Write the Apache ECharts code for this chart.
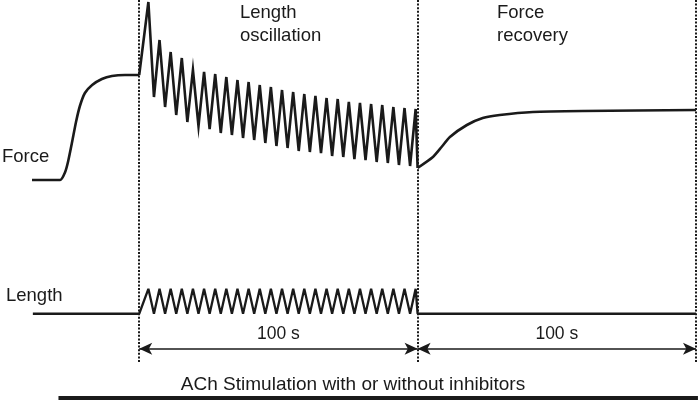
<!DOCTYPE html>
<html>
<head>
<meta charset="utf-8">
<script src="https://cdn.jsdelivr.net/npm/echarts@6/dist/echarts.min.js"></script>
<style>
  html, body { margin: 0; padding: 0; background: #fff; }
  #chart { width: 698px; height: 402px; }
</style>
</head>
<body>
<div id="chart"></div>
<script>
// time in seconds, force and length in arbitrary units
var riseTime = [-38.5, -28.4, -26.6, -25.5, -24.1, -22.7, -21.3, -19.5, -16.9, -13.4, -9.8, -5.1, 0];
var riseForce = [0, 0, 0.08, 0.19, 0.38, 0.58, 0.74, 0.87, 0.95, 1.01, 1.04, 1.05, 1.05];

var peakTime = [3.3, 7.3, 11.3, 15.3, 19.3, 23.3, 27.3, 31.3, 35.3, 39.3, 43.3, 47.3, 51.3,
  55.3, 59.3, 63.3, 67.3, 71.3, 75.3, 79.3, 83.3, 87.3, 91.3, 95.3, 99.3];
var troughTime = [5.3, 9.3, 13.3, 17.3, 21.3, 25.3, 29.3, 33.3, 37.3, 41.3, 45.3, 49.3, 53.3,
  57.3, 61.3, 65.3, 69.3, 73.3, 77.3, 81.3, 85.3, 89.3, 93.3, 97.3, 100];
var peakForce = [1.78, 1.40, 1.28, 1.22, 1.10, 1.08, 1.06, 1.03, 1.00, 0.98, 0.95, 0.93, 0.90,
  0.88, 0.86, 0.84, 0.82, 0.81, 0.78, 0.77, 0.76, 0.75, 0.73, 0.72, 0.71];
var troughForce = [0.83, 0.73, 0.65, 0.58, 0.54, 0.51, 0.47, 0.45, 0.42, 0.40, 0.37, 0.34, 0.32,
  0.29, 0.28, 0.27, 0.24, 0.23, 0.21, 0.20, 0.18, 0.17, 0.15, 0.14, 0.12];

var recTime = [100, 105.5, 108.6, 111.6, 117.7, 123.4, 129.5, 141.4, 159.3, 200];
var recForce = [0.12, 0.23, 0.33, 0.43, 0.55, 0.62, 0.65, 0.68, 0.69, 0.70];

var lengthPeak = 1;
var lengthBase = 0;
var lengthStart = -38.2;
var stimStart = -29;
var stimEnd = 200.7;
var stimLevel = -3.38;
var arrowLevel = -1.4;
var phaseBounds = [0, 100, 200];

var chart = echarts.init(document.getElementById('chart'));

function zip(xs, ys) {
  return xs.map(function (x, i) { return [x, ys[i]]; });
}

var oscForce = [[0, riseForce[riseForce.length - 1]]];
var oscLength = [[lengthStart, lengthBase], [0, lengthBase]];
for (var i = 0; i < peakTime.length; i++) {
  oscForce.push([peakTime[i], peakForce[i]]);
  oscForce.push([troughTime[i], troughForce[i]]);
  oscLength.push([peakTime[i], lengthPeak]);
  oscLength.push([troughTime[i], lengthBase]);
}
oscLength.push([200, lengthBase]);

var txt = '#1a1a1a';
var fam = '"Liberation Sans", Arial, sans-serif';
var font = '18.5px ' + fam;
var xBase = { type: 'value', min: -50, max: 200, show: false };

var option = {
  animation: false,
  backgroundColor: '#fff',
  grid: [
    { left: 0, right: 2, top: 0, bottom: 202 },
    { left: 0, right: 2, top: 239, bottom: 1 },
    { left: 0, right: 2, top: 0, bottom: 40 }
  ],
  xAxis: [
    Object.assign({ gridIndex: 0 }, xBase),
    Object.assign({ gridIndex: 1 }, xBase),
    Object.assign({ gridIndex: 2 }, xBase)
  ],
  yAxis: [
    { gridIndex: 0, type: 'value', min: -0.2, max: 1.8, show: false },
    { gridIndex: 1, type: 'value', min: -3.5, max: 3, show: false },
    { gridIndex: 2, type: 'value', min: 0, max: 1, show: false }
  ],
  series: [
    {
      type: 'line', xAxisIndex: 0, yAxisIndex: 0, data: zip(riseTime, riseForce),
      smooth: 0.2, symbol: 'none', clip: false,
      lineStyle: { color: txt, width: 2.6 }
    },
    {
      type: 'line', xAxisIndex: 0, yAxisIndex: 0, data: oscForce,
      symbol: 'none', clip: false,
      lineStyle: { color: txt, width: 2.6, join: 'miter' }
    },
    {
      type: 'line', xAxisIndex: 0, yAxisIndex: 0, data: zip(recTime, recForce),
      smooth: 0.2, symbol: 'none', clip: false,
      lineStyle: { color: txt, width: 2.6 }
    },
    {
      type: 'line', xAxisIndex: 1, yAxisIndex: 1, data: oscLength,
      symbol: 'none', clip: false,
      lineStyle: { color: txt, width: 2.3 },
      markLine: {
        silent: true,
        symbol: ['arrow', 'arrow'],
        symbolSize: [9, 13],
        lineStyle: { color: txt, width: 1.6, type: 'solid' },
        label: {
          show: true, position: 'middle', distance: 5,
          formatter: '100 s', color: txt, fontSize: 17.5, fontFamily: fam
        },
        data: [
          [{ coord: [phaseBounds[0], arrowLevel] }, { coord: [phaseBounds[1], arrowLevel] }],
          [{ coord: [phaseBounds[1], arrowLevel] }, { coord: [phaseBounds[2], arrowLevel] }]
        ]
      }
    },
    {
      type: 'line', xAxisIndex: 1, yAxisIndex: 1,
      data: [[stimStart, stimLevel], [stimEnd, stimLevel]],
      symbol: 'none', clip: false,
      lineStyle: { color: txt, width: 4 }
    },
    {
      type: 'line', xAxisIndex: 2, yAxisIndex: 2, data: [],
      markLine: {
        silent: true,
        symbol: 'none',
        label: { show: false },
        lineStyle: { color: txt, width: 2, type: [2, 1.6] },
        data: phaseBounds.map(function (t) { return { xAxis: t }; })
      }
    }
  ],
  graphic: [
    { type: 'text', style: { text: 'Force', x: 2, y: 157, font: font, fill: txt,
      align: 'left', verticalAlign: 'middle', textAlign: 'left', textVerticalAlign: 'middle' } },
    { type: 'text', style: { text: 'Length', x: 6, y: 296, font: font, fill: txt,
      align: 'left', verticalAlign: 'middle', textAlign: 'left', textVerticalAlign: 'middle' } },
    { type: 'text', style: { text: 'Length\noscillation', x: 240, y: 1, font: font, fill: txt,
      lineHeight: 23, align: 'left', verticalAlign: 'top', textAlign: 'left', textVerticalAlign: 'top' } },
    { type: 'text', style: { text: 'Force\nrecovery', x: 497, y: 1, font: font, fill: txt,
      lineHeight: 23, align: 'left', verticalAlign: 'top', textAlign: 'left', textVerticalAlign: 'top' } },
    { type: 'text', style: { text: 'ACh Stimulation with or without inhibitors', x: 353, y: 385,
      font: '19px ' + fam, fill: txt, align: 'center', verticalAlign: 'middle',
      textAlign: 'center', textVerticalAlign: 'middle' } }
  ]
};

chart.setOption(option);
</script>
</body>
</html>
